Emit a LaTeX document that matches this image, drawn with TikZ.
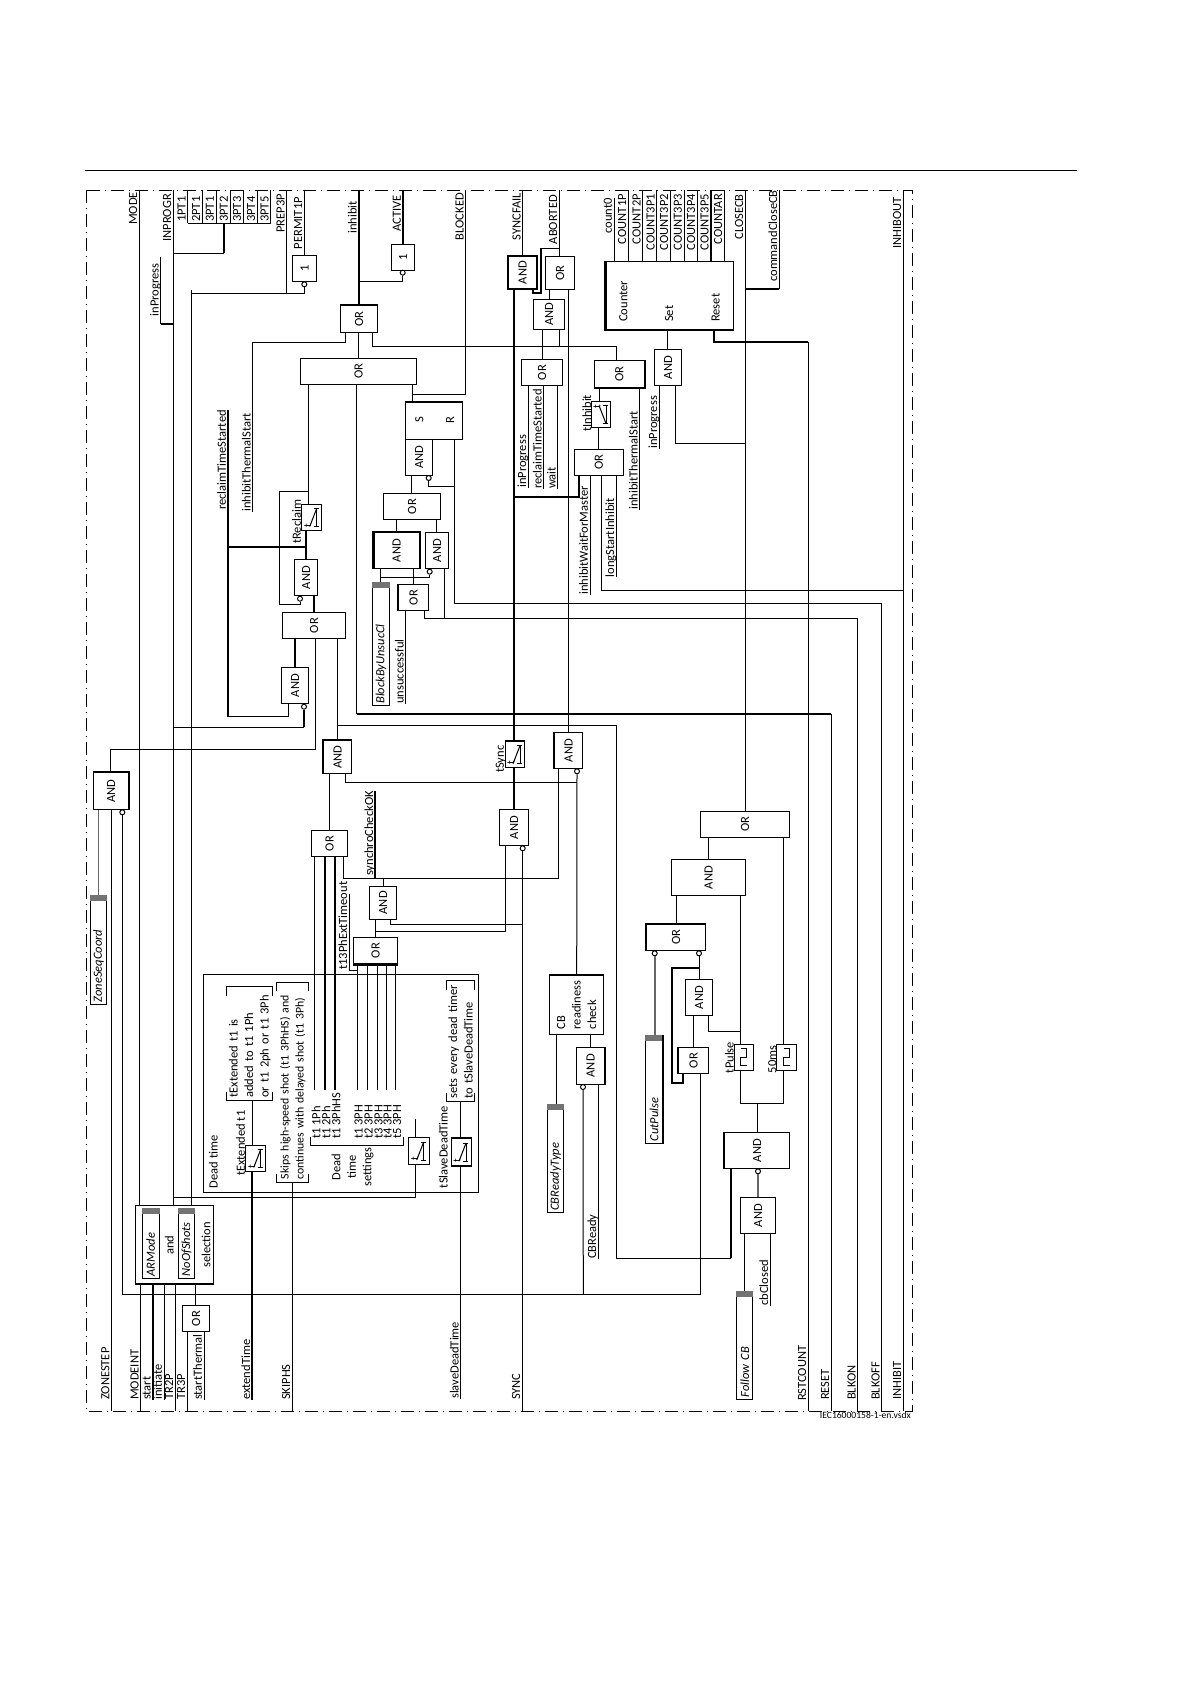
\documentclass[tikz,border=0pt]{standalone}
\usepackage{fontspec}
\setmainfont{Carlito}
\usetikzlibrary{positioning}
\tikzset{
  wire/.style={line width=1pt},
  heavy/.style={line width=2.2pt},
  greywire/.style={line width=1.6pt,draw=black!60},
  boundary/.style={line width=0.8pt,dash pattern=on 13pt off 5pt on 1pt off 5pt},
  txt/.style={rotate=90,inner sep=0pt,font=\fontsize{12.5}{15.5}\selectfont},
  lab/.style={txt,anchor=west},
  sigT/.style={txt,anchor=south east,text depth=2pt},
  sigB/.style={txt,anchor=south west,text depth=2pt},
  gate/.style n args={2}{txt,draw,line width=1pt,minimum height=#1,minimum width=#2},
  setbox/.style n args={2}{txt,draw,line width=1pt,minimum height=#1,text width=#2pt,inner xsep=2pt,align=left,font=\fontsize{12.5}{15.5}\selectfont\itshape},
  noteb/.style n args={2}{txt,minimum height=#1,text width=#2pt,inner xsep=3pt,align=left},
  bub/.style={circle,draw,fill=white,line width=1pt,inner sep=0pt,minimum size=5pt},
  tsym/.style={txt,font=\fontsize{11}{11}\selectfont},
}
\newcommand{\delaysym}[1]{
  \draw[wire] ([shift={(-2,9)}]#1.center) -- ([shift={(5,-9)}]#1.center);
  \draw[wire] ([shift={(2,-9)}]#1.center) -- ([shift={(7,-9)}]#1.center);
  \draw[wire] ([shift={(5,-9)}]#1.center) -- ([shift={(5,9)}]#1.center);
  \draw[wire] ([shift={(2,9)}]#1.center) -- ([shift={(7,9)}]#1.center);
  \node[tsym] (#1T) at ([shift={(-4,8)}]#1.center) {t};
}
\newcommand{\offsym}[1]{
  \draw[wire] ([shift={(-2,-9)}]#1.center) -- ([shift={(5,9)}]#1.center);
  \draw[wire] ([shift={(2,-9)}]#1.center) -- ([shift={(7,-9)}]#1.center);
  \draw[wire] ([shift={(5,-9)}]#1.center) -- ([shift={(5,9)}]#1.center);
  \draw[wire] ([shift={(2,9)}]#1.center) -- ([shift={(7,9)}]#1.center);
  \node[tsym] (#1T) at ([shift={(-4,-8)}]#1.center) {t};
}
\newcommand{\pulsesym}[1]{
  \draw[wire] ([shift={(-3,-8.5)}]#1.center) -- ([shift={(3,-8.5)}]#1.center) -- ([shift={(3,0)}]#1.center) -- ([shift={(-3,0)}]#1.center) -- ([shift={(-3,8.5)}]#1.center) -- ([shift={(3,8.5)}]#1.center);
}
\newcommand{\cornerbox}[1]{
  \draw[wire] ([shift={(0,9)}]#1.north east) -- (#1.north east) -- (#1.south east) -- ([shift={(0,9)}]#1.south east);
  \draw[wire] ([shift={(0,-9)}]#1.north west) -- (#1.north west) -- (#1.south west) -- ([shift={(0,-9)}]#1.south west);
}
\newcommand{\setbar}[1]{
  \fill[black!55] (#1.north east) rectangle ([shift={(0,6)}]#1.south east);
}
\begin{document}
\begin{tikzpicture}[x=1pt,y=-1pt]
\useasboundingbox (0,0) rectangle (1191,1684);
\coordinate (ruleL) at (85,170);
\coordinate (ruleR) at (1077,170);
\coordinate (frameTL) at (86,190);
\coordinate (frameBR) at (912,1411);
\draw[wire] (ruleL) -- (ruleR);
\draw[boundary] (frameTL) rectangle (frameBR);

\node[gate={24.4}{26.4}] (notPermit) at (304.5,268.5) {1};
\node[gate={23}{26.4}] (notActive) at (403.2,257.5) {1};
\node[gate={36.6}{27}] (orInhibit) at (359,319.2) {OR};
\node[gate={116.4}{26}] (orMain) at (358.5,371.3) {OR};
\node[gate={57}{36.6}] (srLatch) at (434.2,421) {};
\node[txt] (srS) at (419.3,420) {S};
\node[txt] (srR) at (450,420) {R};
\node[gate={27}{36}] (andLatch) at (419.2,457.3) {AND};
\node[gate={57.4}{26.4}] (orLatch) at (412,506.5) {OR};
\node[gate={45.3}{35.6}] (andBlock) at (396.7,550.5) {AND};
\node[gate={23.4}{35.6}] (andUnsuc) at (437,550.5) {AND};
\node[gate={30}{26.4}] (orUnsuc) at (413.7,597.5) {OR};
\node[setbox={17.4}{119.4}] (blockBox) at (381,644) {BlockByUnsucCl};
\node[gate={20}{26.4}] (tmrReclaim) at (311.7,517.5) {};
\node[gate={23.4}{36.4}] (andReclaim) at (306,577.5) {AND};
\node[gate={63.4}{26.4}] (orShot) at (314,625.5) {OR};
\node[gate={27.4}{36.4}] (andShot) at (295,685.5) {AND};
\node[gate={35.4}{36.6}] (andZone) at (111,791) {AND};
\node[setbox={16.4}{104.6}] (zoneBox) at (98.5,950) {ZoneSeqCoord};
\node[gate={28}{32.6}] (andSync) at (337.7,757) {AND};
\node[gate={36.4}{26.4}] (orDead) at (329.5,843.5) {OR};
\node[gate={27.4}{33}] (andCheck) at (383,902.8) {AND};
\node[gate={44.4}{26.7}] (orSettings) at (375.5,950.7) {OR};
\node[gate={28}{32}] (andFail) at (522.7,272.7) {AND};
\node[gate={29.4}{32.6}] (orAbort) at (560,273) {OR};
\node[gate={31.4}{30}] (andAbort) at (549,314.3) {AND};
\node[gate={41.4}{26.4}] (orWait) at (542,372.5) {OR};
\node[gate={50}{26.6}] (orInhib) at (619.3,374) {OR};
\node[gate={27}{36.4}] (andSet) at (668.2,367.5) {AND};
\node[gate={127.7}{68}] (counter) at (669.8,295.3) {};
\node[lab] (cntText) at (623.3,322) {Counter};
\node[lab] (cntSet) at (669,322) {Set};
\node[lab] (cntReset) at (715.7,322) {Reset};
\node[gate={19.4}{26.4}] (tmrInhib) at (601,414.5) {};
\node[gate={49}{26}] (orLong) at (598.8,462.3) {OR};
\node[gate={28}{36.4}] (andClose) at (568.7,750.5) {AND};
\node[gate={19.4}{26}] (tmrSync) at (515,754.7) {};
\node[gate={29.4}{36.4}] (andSyncOut) at (514,827.5) {AND};
\node[gate={89}{26}] (orClose) at (745.2,824.3) {OR};
\node[gate={74.4}{36.4}] (andPulse) at (708.5,877.5) {AND};
\node[gate={59}{25.7}] (orCut) at (676.2,937.2) {OR};
\node[gate={54.4}{59.4},align=left] (cbCheck) at (576.5,1005) {CB\\readiness\\check};
\node[gate={28.4}{37}] (andReady) at (590.5,1065.8) {AND};
\node[setbox={16.4}{104.4}] (typeBox) at (555.5,1158.5) {CBReadyType};
\node[setbox={17.4}{104}] (cutBox) at (654,1089.3) {CutPulse};
\node[gate={27.4}{36.4}] (andStop) at (699,997.5) {AND};
\node[gate={30.4}{26.4}] (orStop) at (693.5,1060.5) {OR};
\node[gate={19.7}{26}] (tmrPulse) at (743.9,1057.3) {};
\node[gate={20}{26}] (tmrFifty) at (786.7,1057.3) {};
\node[gate={65}{36.4}] (andFollow) at (757.2,1150.5) {AND};
\node[gate={35}{36.4}] (andClosed) at (758.2,1215.5) {AND};
\node[setbox={16}{103.6}] (followBox) at (744.7,1345.5) {Follow CB};
\node[gate={275}{218.4}] (deadBox) at (341.2,1083.5) {};
\node[lab] (deadText) at (213.3,1188.3) {Dead time};
\node[gate={20}{26.4}] (tmrExt) at (255.7,1158.5) {};
\node[gate={20.7}{26.6}] (tmrDead) at (418.7,1151) {};
\node[gate={20}{27}] (tmrSlave) at (461,1152.2) {};
\node[gate={78}{78}] (modeBox) at (174.7,1244.7) {};
\node[setbox={16.7}{66}] (armodeBox) at (150.7,1243.3) {ARMode};
\node[setbox={16.4}{66}] (shotsBox) at (186.5,1243.3) {NoOfShots};
\node[txt] (andText) at (169.3,1245) {and};
\node[txt] (selText) at (206,1245) {selection};
\node[gate={27.4}{26.4}] (orStart) at (196,1318.5) {OR};

\node[noteb={45.7}{108}] (noteExt) at (249.8,1043.7) {tExtended t1 is\\added to t1 1Ph\\or t1 2ph or t1 3Ph};
\node[noteb={32}{194},font=\fontsize{11.8}{15}\selectfont] (noteSkip) at (292.7,1082.3) {Skips high-speed shot (t1 3PhHS) and\\continues with delayed shot (t1 3Ph)};
\node[noteb={28}{115}] (noteSets) at (460.7,1041.2) {sets every dead timer\\to tSlaveDeadTime};
\node[txt,align=center] (settingsText) at (352.5,1167) {Dead\\time\\settings};

\node[lab] (lblTa) at (316,1139) {t1 1Ph};
\node[lab] (lblTb) at (326,1139) {t1 2Ph};
\node[lab] (lblTc) at (336,1139) {t1 3PhHS};
\node[lab] (lblTd) at (358.7,1139) {t1 3PH};
\node[lab] (lblTe) at (368.7,1139) {t2 3PH};
\node[lab] (lblTf) at (378.7,1139) {t3 3PH};
\node[lab] (lblTg) at (387.7,1139) {t4 3PH};
\node[lab] (lblTh) at (397,1139) {t5 3PH};
\node[lab] (lblReclaim) at (296.7,544) {tReclaim};
\node[lab] (lblInhibit) at (586.7,432) {tInhibit};
\node[lab] (lblSync) at (500.7,773) {tSync};
\node[lab] (lblPulse) at (729.3,1073.3) {tPulse};
\node[lab] (lblFifty) at (772.3,1073.3) {50ms};
\node[lab] (lblExt) at (240.7,1176) {tExtended t1};
\node[lab] (lblSlave) at (443.3,1188.3) {tSlaveDeadTime};

\node[sigT] (sigMode) at (139.3,192) {MODE};
\node[sigT] (sigInprogr) at (173.3,194) {INPROGR};
\node[sigT,inner xsep=6pt] (inprogA) at (160.7,257.3) {inProgress};
\node[sigB] (ptA) at (187.7,222) {1PT1};
\node[sigB] (ptB) at (202.3,222) {2PT1};
\node[sigB] (ptC) at (216,222) {3PT1};
\node[sigB] (ptD) at (230,222) {3PT2};
\node[sigB] (ptE) at (243.3,222) {3PT3};
\node[sigB] (ptF) at (257.3,222) {3PT4};
\node[sigB] (ptG) at (270.7,222) {3PT5};
\node[sigT] (sigPrep) at (286.7,194) {PREP3P};
\node[sigT] (sigPermit) at (304.3,197) {PERMIT1P};
\node[sigT] (sigInhibit) at (358.7,201) {inhibit};
\node[sigT] (sigActive) at (403,195) {ACTIVE};
\node[sigT] (sigBlocked) at (465.7,193) {BLOCKED};
\node[sigT] (sigSyncfail) at (522.7,193) {SYNCFAIL};
\node[sigT] (sigAborted) at (559.3,195) {ABORTED};
\node[sigT] (countZero) at (614,198) {count0};
\node[sigT] (countA) at (628.3,194) {COUNT1P};
\node[sigT] (countB) at (642.7,194) {COUNT2P};
\node[sigT] (countC) at (656.7,194) {COUNT3P1};
\node[sigT] (countD) at (670.3,194) {COUNT3P2};
\node[sigT] (countE) at (684,194) {COUNT3P3};
\node[sigT] (countF) at (697.3,194) {COUNT3P4};
\node[sigT] (countG) at (710.7,194) {COUNT3P5};
\node[sigT] (countH) at (724.3,194) {COUNTAR};
\node[sigT] (sigClose) at (745.3,194) {CLOSECB};
\node[sigT] (sigCommand) at (779.3,190) {commandCloseCB};
\node[sigT] (sigInhibout) at (903.3,197) {INHIBOUT};
\node[sigT] (recA) at (228,410) {reclaimTimeStarted};
\node[sigB] (thermA) at (252.7,512) {inhibitThermalStart};
\node[sigB] (unsucA) at (405.7,704) {unsuccessful};
\node[sigB] (synchOK) at (375.3,876) {synchroCheckOK};
\node[sigB] (tExtA) at (349.3,970) {t13PhExtTimeout};
\node[sigB] (inprogB) at (528.3,488) {inProgress};
\node[sigB] (recB) at (543.7,489) {reclaimTimeStarted};
\node[sigB] (waitA) at (557.7,489) {wait};
\node[sigB] (thermB) at (639.7,510) {inhibitThermalStart};
\node[sigB] (inprogC) at (659.3,449) {inProgress};
\node[sigB] (inhibWait) at (590,595) {inhibitWaitForMaster};
\node[sigB] (longStart) at (616.3,577.3) {longStartInhibit};
\node[sigB] (sigZone) at (111.5,1400) {ZONESTEP};
\node[sigB] (sigModeint) at (140.7,1400) {MODEINT};
\node[sigB] (startA) at (152.7,1400) {start};
\node[sigB] (initA) at (164,1400) {initiate};
\node[sigB] (sigTrTwo) at (175.3,1400) {TR2P};
\node[sigB] (sigTrThree) at (187.3,1400) {TR3P};
\node[sigB] (startTh) at (204,1400) {startThermal};
\node[sigB] (extendA) at (252.3,1400) {extendTime};
\node[sigB] (sigSkip) at (292.3,1400) {SKIPHS};
\node[sigB] (slaveA) at (460.7,1399) {slaveDeadTime};
\node[sigB] (sigSync) at (522.3,1400) {SYNC};
\node[sigB] (cbReadyA) at (598.3,1259) {CBReady};
\node[sigB] (cbClosedA) at (770.3,1306) {cbClosed};
\node[sigB] (sigRst) at (808.3,1401) {RSTCOUNT};
\node[sigB] (sigReset) at (831.3,1400) {RESET};
\node[sigB] (sigBlkon) at (857.7,1400) {BLKON};
\node[sigB] (sigBlkoff) at (881.7,1400) {BLKOFF};
\node[sigB] (sigInhibitIn) at (903.3,1400) {INHIBIT};

\node[inner sep=0pt,anchor=east,font=\fontsize{9.6}{10}\selectfont] (vsdx) at (911,1415) {IEC16000158-1-en.vsdx};

\node[bub] (bubPermit) at (304.3,284.3) {};
\node[bub] (bubActive) at (402.7,272.7) {};
\node[bub] (bubLatch) at (428.7,478) {};
\node[bub] (bubBlock) at (429.7,571.7) {};
\node[bub] (bubReclaim) at (300,598.7) {};
\node[bub] (bubShot) at (304,706.7) {};
\node[bub] (bubZone) at (122.3,812.3) {};
\node[bub] (bubClose) at (577,771.3) {};
\node[bub] (bubSync) at (522.7,848.3) {};
\node[bub] (bubCutA) at (654.7,953.3) {};
\node[bub] (bubCutB) at (699,953.3) {};
\node[bub] (bubReady) at (583,1087) {};
\node[bub] (bubFollow) at (758,1171.3) {};

\coordinate (busL) at (187.7,223.3);
\coordinate (busR) at (270.7,223.3);
\coordinate (jProgA) at (173.3,253.3);
\coordinate (jProgB) at (173.3,324);
\coordinate (jProgC) at (173.3,727.3);
\coordinate (jProgD) at (173.3,1197.3);
\coordinate (jPrep) at (286.7,293.3);
\coordinate (jPermit) at (191.3,290);
\coordinate (jInhibit) at (358.7,281.7);
\coordinate (jBlock) at (412.7,394.3);
\coordinate (jCross) at (372.7,346.3);
\coordinate (jRec) at (308.7,491);
\coordinate (jRecl) at (228,546.7);
\coordinate (jRecB) at (228,716.7);
\coordinate (jClose) at (337.7,725.3);
\coordinate (jReset) at (356.7,714);
\coordinate (jLatch) at (454,486);
\coordinate (jBlk) at (380.7,577.3);
\coordinate (jBlkon) at (424.3,618.3);
\coordinate (jAbort) at (559.3,248.3);
\coordinate (jWait) at (514,496.7);
\coordinate (jIn) at (903.3,590.3);
\coordinate (jSet) at (745.3,443.3);
\coordinate (jCmd) at (745.3,289.3);
\coordinate (jChk) at (576.7,782.3);
\coordinate (jDead) at (343.7,878.3);
\coordinate (jDeadTop) at (415.3,1119);
\coordinate (jOut) at (375.3,931);
\coordinate (jSyncA) at (522.3,924.3);
\coordinate (jTimeout) at (357.3,970.7);
\coordinate (wireEnd) at (0,1090);
\coordinate (jStop) at (583.3,1294.3);
\coordinate (jCut) at (699.3,967.7);
\coordinate (jPulse) at (740.3,1031.3);
\coordinate (jFollow) at (757.3,1103.3);
\coordinate (jCbk) at (616,1258.3);

\draw[wire] (139.3,0 |- frameTL) -- (139.3,0 |- modeBox.east);
\draw[wire] (173.3,0 |- frameTL) -- (173.3,0 |- modeBox.east);
\draw[wire] (busL) -- (busR);
\draw[wire] (187.7,0 |- frameTL) -- (busL);
\draw[wire] (202.3,0 |- frameTL) -- (202.3,0 |- busL);
\draw[wire] (216,0 |- frameTL) -- (216,0 |- busL);
\draw[wire] (230,0 |- frameTL) -- (230,0 |- busL);
\draw[wire] (243.3,0 |- frameTL) -- (243.3,0 |- busL);
\draw[wire] (257.3,0 |- frameTL) -- (257.3,0 |- busL);
\draw[wire] (270.7,0 |- frameTL) -- (busR);
\draw[heavy] (224,0 |- busL) -- (224,0 |- jProgA);
\draw[wire] (jProgA) -- (224,0 |- jProgA);
\draw[wire] (inprogA.south east) -- (inprogA.south east |- jProgB);
\draw[heavy] (inprogA.south east |- jProgB) -- (jProgB);
\draw[wire] (notPermit.east |- frameTL) -- (notPermit.east);
\draw[wire] (286.7,0 |- frameTL) -- (jPrep);
\draw[wire] (bubPermit.south) |- (191.3,0 |- jPrep);
\draw[wire] (jPermit) -- (191.3,0 |- modeBox.east);
\draw[heavy] (358.7,0 |- frameTL) -- (358.7,0 |- orInhibit.east);
\draw[heavy] (403,0 |- frameTL) -- (403,0 |- notActive.east);
\draw[wire] (bubActive.south) |- (jInhibit);
\draw[wire] (465.7,0 |- frameTL) |- (jBlock);
\draw[wire] (412.7,0 |- orMain.west) -- (412.7,0 |- srLatch.east);
\draw[wire] (345.7,0 |- orInhibit.west) |- (252.7,342.3) -- (thermA.south west);
\draw[wire] (358.7,0 |- orInhibit.west) -- (358.7,0 |- orMain.east);
\draw[wire] (372.7,0 |- orInhibit.west) -- (jCross) -| (616.7,0 |- orInhib.east);
\draw[wire] (308.7,0 |- orMain.west) -- (308.7,0 |- tmrReclaim.east);
\draw[wire] (jRec) -| (279.3,604) -| (bubReclaim.south);
\draw[heavy] (306,0 |- tmrReclaim.west) -- (306,0 |- andReclaim.east);
\draw[heavy] (recA.south east) -- (jRecB);
\draw[heavy] (jRecl) -- (306,0 |- jRecl);
\draw[wire] (jRecB) -| (288.7,0 |- andShot.west);
\draw[heavy] (314,0 |- andReclaim.west) -- (314,0 |- orShot.east);
\draw[heavy] (295,0 |- orShot.west) -- (295,0 |- andShot.east);
\draw[heavy] (bubShot.south) -- (bubShot.south |- jProgC);
\draw[wire] (bubShot.south |- jProgC) -- (jProgC);
\draw[wire] (315.7,0 |- orShot.west) |- (110.3,749.3) -- (110.3,0 |- andZone.east);
\draw[wire] (337.7,0 |- orShot.west) -- (337.7,0 |- andSync.east);
\draw[wire] (329.3,0 |- andSync.west) -- (329.3,0 |- orDead.east);
\draw[wire] (jClose) -| (jCbk) -- (731,0 |- jCbk);
\draw[heavy] (731,0 |- jCbk) -- (731,0 |- andFollow.west);
\draw[wire] (356.7,0 |- orMain.west) -- (jReset);
\draw[heavy] (jReset) -- (831.3,0 |- jReset);
\draw[wire] (831.3,0 |- jReset) -- (831.3,0 |- frameBR);
\draw[wire] (454,0 |- srLatch.west) |- (881.7,603.3) -- (881.7,0 |- frameBR);
\draw[wire] (jLatch) -| (bubLatch.south);
\draw[wire] (411.7,0 |- andLatch.west) -- (411.7,0 |- orLatch.east);
\draw[wire] (396.7,0 |- orLatch.west) -- (396.7,0 |- andBlock.east);
\draw[wire] (436.7,0 |- orLatch.west) -- (436.7,0 |- andUnsuc.east);
\draw[wire] (380.7,0 |- andBlock.west) -- (380.7,0 |- blockBox.east);
\draw[wire] (413.3,0 |- andBlock.west) -- (413.3,0 |- orUnsuc.east);
\draw[wire] (jBlk) -| (bubBlock.south);
\draw[wire] (444.7,0 |- andUnsuc.west) |- (857.7,618.3) -- (857.7,0 |- frameBR);
\draw[wire] (424.3,0 |- orUnsuc.west) -- (jBlkon) -- (444.7,0 |- jBlkon);
\draw[wire] (405.7,0 |- orUnsuc.west) -- (unsucA.south west);
\draw[wire] (522.7,0 |- frameTL) -- (522.7,0 |- andFail.east);
\draw[wire] (559.3,0 |- frameTL) -- (559.3,0 |- orAbort.east);
\draw[wire] (jAbort) -- (540.7,0 |- jAbort);
\draw[heavy] (540.7,0 |- jAbort) -- (540.7,293.3) -| (533.3,0 |- andFail.west);
\draw[heavy] (514,0 |- andFail.west) -- (514,0 |- tmrSync.east);
\draw[heavy] (514,0 |- tmrSync.west) -- (514,0 |- andSyncOut.east);
\draw[heavy] (jWait) -| (578.7,0 |- orLong.west);
\draw[wire] (549.7,0 |- orAbort.west) -- (549.7,0 |- andAbort.east);
\draw[wire] (568.7,0 |- orAbort.west) -- (568.7,0 |- andClose.east);
\draw[wire] (542.3,0 |- andAbort.west) -- (542.3,0 |- orWait.east);
\draw[wire] (559.3,0 |- andAbort.west) -- (559.3,0 |- jCross);
\draw[wire] (528.3,0 |- orWait.west) -- (inprogB.south west);
\draw[wire] (543.7,0 |- orWait.west) -- (recB.south west);
\draw[wire] (557.7,0 |- orWait.west) -- (waitA.south west);
\draw[wire] (599.3,0 |- orInhib.west) -- (599.3,0 |- tmrInhib.east);
\draw[wire] (598.3,0 |- tmrInhib.west) -- (598.3,0 |- orLong.east);
\draw[wire] (639.7,0 |- orInhib.west) -- (thermB.south west);
\draw[wire] (590,0 |- orLong.west) -- (inhibWait.south west);
\draw[wire] (616.3,0 |- orLong.west) -- (longStart.south west);
\draw[wire] (601.3,0 |- orLong.west) |- (jIn);
\draw[wire] (903.3,0 |- frameTL) -- (903.3,0 |- frameBR);
\draw[wire] (667.3,0 |- counter.west) -- (667.3,0 |- andSet.east);
\draw[wire] (659.3,0 |- andSet.west) -- (inprogC.south west);
\draw[wire] (675.3,0 |- andSet.west) |- (jSet);
\draw[wire] (745.3,0 |- frameTL) -- (745.3,0 |- orClose.east);
\draw[heavy] (jCmd) -- (779.3,0 |- jCmd);
\draw[wire] (779.3,0 |- jCmd) -- (779.3,0 |- frameTL);
\draw[wire] (countZero.south east) -- (614,0 |- counter.east);
\draw[wire] (628.3,0 |- frameTL) -- (628.3,0 |- counter.east);
\draw[wire] (642.7,0 |- frameTL) -- (642.7,0 |- counter.east);
\draw[wire] (656.7,0 |- frameTL) -- (656.7,0 |- counter.east);
\draw[wire] (670.3,0 |- frameTL) -- (670.3,0 |- counter.east);
\draw[wire] (684,0 |- frameTL) -- (684,0 |- counter.east);
\draw[wire] (697.3,0 |- frameTL) -- (697.3,0 |- counter.east);
\draw[heavy] (710.7,0 |- frameTL) -- (710.7,0 |- counter.east);
\draw[wire] (724.3,0 |- frameTL) -- (724.3,0 |- counter.east);
\draw[heavy] (714,0 |- counter.west) |- (808.3,342);
\draw[wire] (808.3,342) -- (808.3,0 |- frameBR);
\draw[wire] (345.7,0 |- andSync.west) |- (jChk);
\draw[wire] (bubClose.south) -- (576.7,0 |- cbCheck.east);
\draw[wire] (558.7,0 |- andClose.west) |- (jDead) -- (343.7,0 |- orDead.west);
\draw[heavy] (synchOK.south east) -- (375.3,0 |- jDead);
\draw[wire] (383.3,0 |- jDead) -- (383.3,0 |- andCheck.east);
\draw[wire] (314.3,0 |- orDead.west) -- (314.3,0 |- wireEnd);
\draw[heavy] (325,0 |- orDead.west) -- (325,0 |- wireEnd);
\draw[heavy] (335,0 |- orDead.west) -- (335,0 |- wireEnd);
\draw[wire] ([shift={(0,13)}]tExtA.south east) -- (tExtA.south west) |- (jTimeout);
\draw[wire] (375.3,0 |- andCheck.west) -- (375.3,0 |- orSettings.east);
\draw[wire] (390.3,0 |- andCheck.west) |- (jSyncA);
\draw[wire] (jOut) -| (505.3,0 |- andSyncOut.west);
\draw[wire] (bubSync.south) -- (bubSync.south |- frameBR);
\draw[wire] (357.3,0 |- orSettings.west) -- (357.3,0 |- wireEnd);
\draw[wire] (367.3,0 |- orSettings.west) -- (367.3,0 |- wireEnd);
\draw[wire] (377.3,0 |- orSettings.west) -- (377.3,0 |- wireEnd);
\draw[wire] (386.3,0 |- orSettings.west) -- (386.3,0 |- wireEnd);
\draw[wire] (395.7,0 |- orSettings.west) -- (395.7,0 |- wireEnd);
\draw[wire] (252.3,0 |- noteExt.west) -- (252.3,0 |- tmrExt.east);
\draw[heavy] (252.3,0 |- tmrExt.west) -- (extendA.south west);
\draw[wire] (292.3,0 |- noteSkip.west) -- (292.3,0 |- frameBR);
\draw[wire] (460.7,0 |- noteSets.west) -- (460.7,0 |- tmrSlave.east);
\draw[wire] (460.7,0 |- tmrSlave.west) -- (slaveA.south west);
\draw[wire] (jDeadTop) -- (415.3,0 |- tmrDead.east);
\draw[wire] (415.3,0 |- tmrDead.west) |- (jProgD);
\draw[wire] (310.7,1137) |- (403.3,1145) -- (403.3,1137);
\draw[wire] (111.5,0 |- andZone.west) -- (111.5,0 |- frameBR);
\draw[greywire] (98.5,0 |- andZone.west) -- (98.5,0 |- zoneBox.east);
\draw[wire] (bubZone.south) |- (700.7,0 |- jStop) -- (700.7,0 |- orStop.west);
\draw[wire] (jStop) -- (bubReady.south);
\draw[wire] (140.7,0 |- modeBox.west) -- (140.7,0 |- frameBR);
\draw[heavy] (152.7,0 |- modeBox.west) -- (startA.south west);
\draw[wire] (164,0 |- modeBox.west) -- (initA.south west);
\draw[wire] (175.3,0 |- modeBox.west) -- (175.3,0 |- frameBR);
\draw[wire] (195.7,0 |- modeBox.west) -- (195.7,0 |- orStart.east);
\draw[wire] (187.3,0 |- orStart.west) -- (187.3,0 |- frameBR);
\draw[wire] (204,0 |- orStart.west) -- (startTh.south west);
\draw[wire] (556.3,0 |- cbCheck.west) -- (556.3,0 |- typeBox.east);
\draw[wire] (590.7,0 |- cbCheck.west) -- (590.7,0 |- andReady.east);
\draw[wire] (598.3,0 |- andReady.west) -- (cbReadyA.south west);
\draw[greywire] (bubCutA.south) -- (bubCutA.south |- cutBox.east);
\draw[wire] (bubCutB.south) -- (bubCutB.south |- andStop.east);
\draw[heavy] (jCut) -| (672,1083.3) -| (683.3,0 |- orStop.west);
\draw[wire] (693.7,0 |- andStop.west) -- (693.7,0 |- orStop.east);
\draw[wire] (708.7,0 |- andStop.west) |- (jPulse);
\draw[wire] (740.3,0 |- andPulse.west) -- (740.3,0 |- tmrPulse.east);
\draw[wire] (740.3,0 |- tmrPulse.west) |- (jFollow) -| (783.7,0 |- tmrFifty.west);
\draw[wire] (783.7,0 |- tmrFifty.east) -- (783.7,0 |- orClose.west);
\draw[wire] (jFollow) -- (757.3,0 |- andFollow.east);
\draw[wire] (708.7,0 |- orClose.west) -- (708.7,0 |- andPulse.east);
\draw[wire] (676.3,0 |- andPulse.west) -- (676.3,0 |- orCut.east);
\draw[greywire] (bubFollow.south) -- (bubFollow.south |- andClosed.east);
\draw[wire] (744.7,0 |- andClosed.west) -- (744.7,0 |- followBox.east);
\draw[wire] (770.3,0 |- andClosed.west) -- (cbClosedA.south west);

\delaysym{tmrReclaim}
\delaysym{tmrExt}
\delaysym{tmrDead}
\delaysym{tmrSlave}
\delaysym{tmrSync}
\offsym{tmrInhib}
\pulsesym{tmrPulse}
\pulsesym{tmrFifty}
\cornerbox{noteExt}
\cornerbox{noteSkip}
\cornerbox{noteSets}
\setbar{blockBox}
\setbar{zoneBox}
\setbar{typeBox}
\setbar{cutBox}
\setbar{followBox}
\setbar{armodeBox}
\setbar{shotsBox}

\draw[heavy] (orInhibit.north east) -- (orInhibit.south east);
\draw[heavy] (srLatch.north east) -- (srLatch.south east);
\draw[heavy] (andBlock.north west) -- (andBlock.north east) -- (andBlock.south east) -- (andBlock.south west);
\draw[heavy] (orUnsuc.north east) -- (orUnsuc.north west);
\draw[heavy] (andZone.north east) -- (andZone.south east) -- (andZone.south west);
\draw[heavy] (andSync.north west) -- (andSync.north east) -- (andSync.south east);
\draw[heavy] (orSettings.north west) -- (orSettings.south west);
\draw[heavy] (andFail.north east) -- (andFail.south east) -- (andFail.south west) -- (andFail.north west) -- cycle;
\draw[heavy] (orInhib.south east) -- (orInhib.south west) -- (orInhib.north west);
\draw[heavy] (counter.north east) -- (counter.north west) -- (counter.south west);
\draw[heavy] (tmrSync.north east) -- (tmrSync.south east);
\draw[heavy] (tmrSlave.north east) -- (tmrSlave.south east);
\draw[heavy] (tmrSlave.north west) -- (tmrSlave.south west);
\draw[heavy] (andClose.north east) -- (andClose.north west);
\draw[heavy] (cbCheck.north east) -- (cbCheck.south east);
\draw[heavy] (andReady.south east) -- (andReady.south west);
\draw[heavy] (cutBox.south east) -- (cutBox.south west);
\draw[heavy] (orCut.north west) -- (orCut.north east) -- (orCut.south east);
\draw[heavy] (orStop.north east) -- (orStop.north west);
\draw[heavy] (andFollow.north east) -- (andFollow.north west);
\draw[heavy] (modeBox.north west) -- (modeBox.south west);
\end{tikzpicture}
\end{document}
